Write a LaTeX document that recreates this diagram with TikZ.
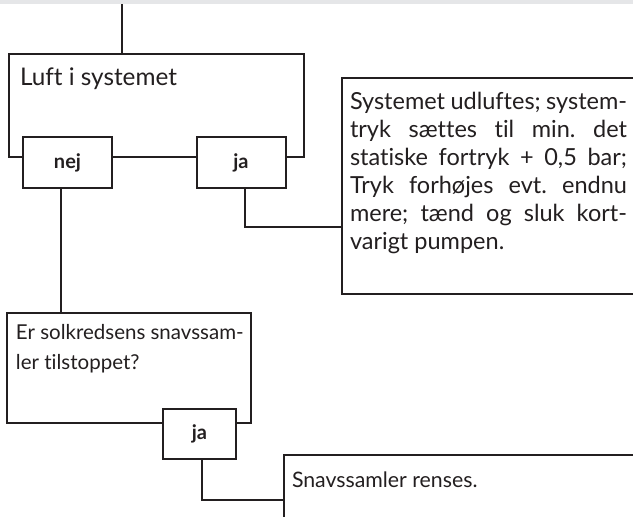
\documentclass[tikz,border=0pt]{standalone}
\usepackage{fontspec}
\setmainfont{Lato}[Ligatures=NoCommon]
\usepackage{tikz}
\usepackage{xcolor}
\definecolor{band}{RGB}{229,230,232}
\definecolor{ink}{RGB}{35,31,32}
\frenchspacing

\begin{document}
\begin{tikzpicture}[x=1pt,y=-1pt,line width=2pt,draw=ink,
  qbox/.style={draw=ink,fill=white,inner sep=0pt,anchor=north west},
  ansbox/.style={draw=ink,fill=white,inner sep=0pt,minimum width=89pt,minimum height=51pt,text=ink,font=\bfseries\fontsize{20}{24}\selectfont},
  txt/.style={inner sep=0pt,anchor=base west,align=left,text=ink}]
\useasboundingbox (0,0) rectangle (633,517);
\clip (0,0) rectangle (633,517);
\fill[band] (0,0) rectangle (633,4);
\node[qbox,minimum width=295pt,minimum height=103pt] (luft) at (8,53) {};
\node[txt,font=\fontsize{24.3}{29}\selectfont] (luft-t) at ([xshift=11pt,yshift=-32pt]luft.north west) {Luft i systemet};
\node[ansbox] (nej) at (67.5,162.5) {nej};
\node[ansbox] (ja) at (241,162.5) {ja};
\node[qbox,minimum width=320pt,minimum height=216pt] (sys) at (341,77) {};
\node[txt,font=\fontsize{23.5}{28}\selectfont] (sys-t) at ([xshift=8pt,yshift=-172pt]sys.north west) {\makebox[277pt][s]{Systemet udluftes; system-}\\
  \makebox[277pt][s]{tryk sættes til min. det}\\
  \makebox[277pt][s]{statiske fortryk + 0,5 bar;}\\
  \makebox[277pt][s]{Tryk forhøjes evt. endnu}\\
  \makebox[277pt][s]{mere; tænd og sluk kort-}\\
  varigt pumpen.};
\node[qbox,minimum width=244pt,minimum height=110pt] (solk) at (6,312) {};
\node[txt,font=\fontsize{20.5}{30}\selectfont] (solk-t) at ([xshift=9pt,yshift=-57pt]solk.north west) {Er solkredsens snavssam-\\ler tilstoppet?};
\node[ansbox,minimum width=73pt,minimum height=50pt] (ja2) at (199.5,434) {ja};
\node[qbox,minimum width=400pt,minimum height=90pt] (snav) at (283,454) {};
\node[txt,font=\fontsize{21.3}{29}\selectfont] (snav-t) at ([xshift=8pt,yshift=-33pt]snav.north west) {Snavssamler renses.};
\coordinate (in) at (122,4);
\draw (in) -- (in |- luft.north);
\draw ([xshift=-6.5pt]nej.south) -- ([xshift=-6.5pt]nej.south |- solk.north);
\draw ([xshift=4pt]ja.south) |- ([yshift=-41pt]sys.west);
\draw ([xshift=2.5pt]ja2.south) |- (snav.west);
\end{tikzpicture}
\end{document}
